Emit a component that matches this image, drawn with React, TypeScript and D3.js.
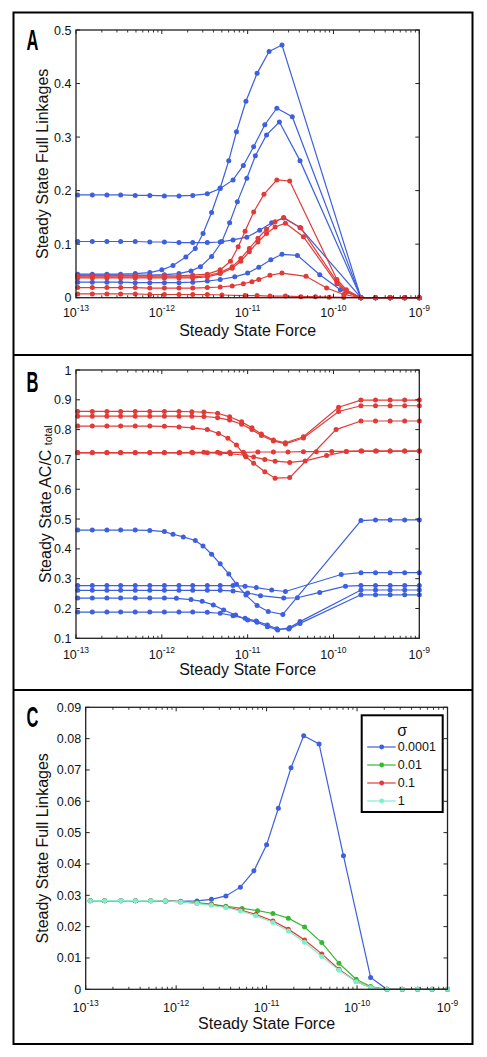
import React from 'react';
import * as d3 from 'd3';

type Pt = [number, number]; // [log10(force), value]

// ---------- shared axis data ----------
const X_DECADES = [-13, -12, -11, -10, -9];
const X_MINOR_MULTS = [2, 3, 4, 5, 6, 7, 8, 9];
const A_Y_TICKS = [0, 0.1, 0.2, 0.3, 0.4, 0.5];
const B_Y_TICKS = [0.1, 0.2, 0.3, 0.4, 0.5, 0.6, 0.7, 0.8, 0.9, 1];
const C_Y_TICKS = [0, 0.01, 0.02, 0.03, 0.04, 0.05, 0.06, 0.07, 0.08, 0.09];
const C_LEGEND_LABELS = ['0.0001', '0.01', '0.1', '1'];

// ---------- Panel A: Steady State Full Linkages ----------
const A_BLUE1: Pt[] = [[-12.98,.192],[-12.81,.192],[-12.64,.192],[-12.48,.192],[-12.31,.191],[-12.14,.191],[-11.97,.190],[-11.80,.190],[-11.64,.191],[-11.47,.194],[-11.32,.204],[-11.17,.220],[-11.05,.247],[-10.93,.282],[-10.80,.323],[-10.66,.354],[-10.48,.338],[-9.68,0],[-9.51,0],[-9.34,0],[-9.17,0],[-9.0,0]];
const A_BLUE2: Pt[] = [[-12.98,.105],[-12.81,.105],[-12.64,.105],[-12.48,.105],[-12.31,.105],[-12.14,.104],[-11.97,.104],[-11.80,.103],[-11.64,.103],[-11.47,.103],[-11.32,.104],[-11.17,.108],[-11.01,.113],[-10.86,.126],[-10.72,.140],[-10.58,.149],[-10.39,.131],[-9.68,0],[-9.51,0],[-9.34,0],[-9.17,0],[-9.0,0]];
const A_BLUE3: Pt[] = [[-12.98,.044],[-12.81,.044],[-12.64,.044],[-12.48,.044],[-12.31,.045],[-12.14,.047],[-12.00,.052],[-11.87,.060],[-11.72,.076],[-11.61,.092],[-11.52,.120],[-11.42,.159],[-11.32,.205],[-11.22,.256],[-11.13,.310],[-11.02,.367],[-10.89,.419],[-10.75,.460],[-10.60,.472],[-9.68,0],[-9.51,0],[-9.34,0],[-9.17,0],[-9.0,0]];
const A_BLUE4: Pt[] = [[-12.98,.042],[-12.81,.042],[-12.64,.042],[-12.48,.042],[-12.31,.042],[-12.14,.042],[-11.97,.043],[-11.80,.045],[-11.66,.050],[-11.55,.058],[-11.42,.077],[-11.30,.105],[-11.21,.140],[-11.12,.179],[-11.01,.223],[-10.91,.265],[-10.78,.304],[-10.63,.328],[-10.39,.256],[-9.68,0],[-9.51,0],[-9.34,0],[-9.17,0],[-9.0,0]];
const A_BLUE5: Pt[] = [[-12.98,.029],[-12.81,.029],[-12.64,.029],[-12.48,.029],[-12.31,.028],[-12.14,.028],[-11.97,.028],[-11.80,.028],[-11.64,.029],[-11.47,.031],[-11.32,.034],[-11.15,.039],[-11.00,.046],[-10.87,.057],[-10.73,.071],[-10.60,.081],[-10.42,.079],[-10.16,.043],[-9.92,.015],[-9.68,0],[-9.51,0],[-9.34,0],[-9.17,0],[-9.0,0]];
const A_RED1: Pt[] = [[-12.98,.041],[-12.81,.041],[-12.64,.041],[-12.48,.041],[-12.31,.041],[-12.14,.041],[-11.97,.041],[-11.80,.041],[-11.64,.042],[-11.47,.044],[-11.32,.052],[-11.20,.068],[-11.11,.095],[-11.03,.124],[-10.93,.160],[-10.81,.193],[-10.66,.220],[-10.51,.218],[-9.96,.034],[-9.85,.015],[-9.68,0],[-9.51,0],[-9.34,0],[-9.17,0],[-9.0,0]];
const A_RED2: Pt[] = [[-12.98,.039],[-12.81,.039],[-12.64,.039],[-12.48,.039],[-12.31,.039],[-12.14,.039],[-11.97,.039],[-11.80,.039],[-11.64,.039],[-11.47,.041],[-11.32,.047],[-11.18,.058],[-11.08,.073],[-10.98,.092],[-10.88,.111],[-10.78,.128],[-10.68,.142],[-10.58,.150],[-10.38,.130],[-9.96,.030],[-9.85,.012],[-9.68,0],[-9.51,0],[-9.34,0],[-9.17,0],[-9.0,0]];
const A_RED3: Pt[] = [[-12.98,.037],[-12.81,.037],[-12.64,.037],[-12.48,.037],[-12.31,.037],[-12.14,.037],[-11.97,.037],[-11.80,.037],[-11.64,.037],[-11.47,.039],[-11.32,.045],[-11.18,.055],[-11.08,.068],[-10.98,.086],[-10.88,.104],[-10.78,.120],[-10.68,.132],[-10.56,.139],[-10.35,.114],[-9.96,.026],[-9.85,.010],[-9.68,0],[-9.51,0],[-9.34,0],[-9.17,0],[-9.0,0]];
const A_RED4: Pt[] = [[-12.98,.019],[-12.81,.019],[-12.64,.019],[-12.48,.019],[-12.31,.019],[-12.14,.018],[-11.97,.018],[-11.80,.018],[-11.64,.018],[-11.47,.019],[-11.32,.020],[-11.18,.022],[-11.05,.026],[-10.95,.030],[-10.87,.034],[-10.74,.042],[-10.60,.046],[-10.32,.040],[-10.08,.018],[-9.88,.006],[-9.68,0],[-9.51,0],[-9.34,0],[-9.17,0],[-9.0,0]];
const A_RED5: Pt[] = [[-12.98,.007],[-12.81,.007],[-12.64,.007],[-12.48,.007],[-12.31,.007],[-12.14,.006],[-11.97,.006],[-11.80,.006],[-11.64,.006],[-11.47,.006],[-11.30,.005],[-11.03,.004],[-10.89,.004],[-10.74,.003],[-10.56,.003],[-10.38,.002],[-10.21,.002],[-10.05,.001],[-9.88,.0005],[-9.68,0],[-9.51,0],[-9.34,0],[-9.17,0],[-9.0,0]];

// ---------- Panel B: Steady State AC/C total ----------
const B_RED1: Pt[] = [[-12.98,.861],[-12.81,.861],[-12.64,.861],[-12.48,.861],[-12.31,.861],[-12.14,.861],[-11.97,.861],[-11.80,.861],[-11.65,.860],[-11.51,.859],[-11.35,.855],[-11.21,.843],[-11.07,.826],[-10.95,.806],[-10.84,.785],[-10.70,.765],[-10.56,.756],[-10.35,.776],[-9.94,.875],[-9.68,.899],[-9.51,.899],[-9.34,.899],[-9.17,.899],[-9.0,.899]];
const B_RED2: Pt[] = [[-12.98,.845],[-12.81,.845],[-12.64,.845],[-12.48,.845],[-12.31,.845],[-12.14,.845],[-11.97,.845],[-11.80,.845],[-11.65,.845],[-11.51,.844],[-11.35,.840],[-11.21,.832],[-11.07,.818],[-10.95,.800],[-10.84,.780],[-10.70,.762],[-10.56,.752],[-10.35,.772],[-9.94,.861],[-9.68,.880],[-9.51,.880],[-9.34,.880],[-9.17,.880],[-9.0,.880]];
const B_RED3: Pt[] = [[-12.98,.812],[-12.81,.812],[-12.64,.812],[-12.48,.812],[-12.31,.812],[-12.14,.812],[-11.97,.811],[-11.80,.809],[-11.64,.806],[-11.47,.800],[-11.34,.787],[-11.23,.771],[-11.13,.748],[-11.02,.709],[-10.93,.687],[-10.80,.659],[-10.68,.637],[-10.51,.639],[-9.97,.800],[-9.68,.829],[-9.51,.829],[-9.34,.829],[-9.17,.829],[-9.0,.829]];
const B_RED4: Pt[] = [[-12.98,.722],[-12.81,.722],[-12.64,.722],[-12.48,.722],[-12.31,.722],[-12.14,.722],[-11.97,.722],[-11.80,.722],[-11.64,.722],[-11.47,.722],[-11.32,.721],[-11.20,.719],[-11.03,.714],[-10.93,.708],[-10.80,.700],[-10.68,.694],[-10.51,.690],[-10.33,.695],[-10.08,.713],[-9.85,.727],[-9.68,.728],[-9.51,.728],[-9.34,.728],[-9.17,.728],[-9.0,.728]];
const B_RED5: Pt[] = [[-12.98,.723],[-12.81,.723],[-12.64,.723],[-12.48,.723],[-12.31,.723],[-12.14,.723],[-11.97,.723],[-11.79,.723],[-11.65,.724],[-11.51,.724],[-11.35,.724],[-11.21,.724],[-11.05,.724],[-10.88,.725],[-10.70,.725],[-10.53,.725],[-10.35,.726],[-10.20,.726],[-10.02,.727],[-9.85,.727],[-9.67,.728],[-9.50,.728],[-9.34,.728],[-9.17,.728],[-9.0,.728]];
const B_BLUE1: Pt[] = [[-12.98,.463],[-12.81,.463],[-12.64,.463],[-12.48,.463],[-12.31,.463],[-12.14,.462],[-11.97,.458],[-11.87,.449],[-11.75,.440],[-11.61,.428],[-11.52,.410],[-11.42,.382],[-11.32,.350],[-11.22,.316],[-11.13,.281],[-11.02,.245],[-10.89,.210],[-10.76,.190],[-10.59,.180],[-9.68,.495],[-9.51,.497],[-9.34,.497],[-9.17,.497],[-9.0,.497]];
const B_BLUE2: Pt[] = [[-12.98,.277],[-12.81,.277],[-12.64,.277],[-12.48,.277],[-12.31,.277],[-12.14,.277],[-11.97,.277],[-11.80,.277],[-11.64,.277],[-11.47,.277],[-11.32,.277],[-11.17,.277],[-11.03,.275],[-10.90,.270],[-10.72,.262],[-10.56,.257],[-9.91,.314],[-9.68,.320],[-9.51,.320],[-9.34,.320],[-9.17,.320],[-9.0,.320]];
const B_BLUE3: Pt[] = [[-12.98,.261],[-12.81,.261],[-12.64,.261],[-12.48,.261],[-12.31,.261],[-12.14,.261],[-11.97,.261],[-11.80,.261],[-11.64,.261],[-11.47,.261],[-11.32,.261],[-11.17,.259],[-11.00,.252],[-10.85,.243],[-10.58,.235],[-10.42,.236],[-10.16,.254],[-9.86,.275],[-9.68,.277],[-9.51,.277],[-9.34,.277],[-9.17,.277],[-9.0,.277]];
const B_BLUE4: Pt[] = [[-12.98,.235],[-12.81,.235],[-12.64,.235],[-12.48,.235],[-12.31,.235],[-12.14,.235],[-11.97,.235],[-11.83,.234],[-11.66,.230],[-11.53,.224],[-11.40,.212],[-11.28,.195],[-11.14,.178],[-11.00,.161],[-10.89,.154],[-10.77,.139],[-10.65,.128],[-10.51,.136],[-10.39,.156],[-9.68,.262],[-9.51,.262],[-9.34,.262],[-9.17,.262],[-9.0,.262]];
const B_BLUE5: Pt[] = [[-12.98,.188],[-12.81,.188],[-12.64,.188],[-12.48,.188],[-12.31,.188],[-12.14,.188],[-11.97,.188],[-11.80,.188],[-11.64,.188],[-11.47,.187],[-11.32,.184],[-11.17,.176],[-11.03,.167],[-10.90,.158],[-10.77,.145],[-10.66,.132],[-10.52,.131],[-10.39,.150],[-9.68,.246],[-9.51,.246],[-9.34,.246],[-9.17,.246],[-9.0,.246]];

// ---------- Panel C: sigma sweep ----------
const C_SIGMA_0001: Pt[] = [[-12.95,.0283],[-12.79,.0283],[-12.61,.0283],[-12.45,.0283],[-12.28,.0283],[-12.12,.0282],[-11.95,.0281],[-11.77,.0282],[-11.61,.0287],[-11.45,.0298],[-11.29,.0326],[-11.14,.0378],[-11.00,.0461],[-10.87,.0578],[-10.73,.0707],[-10.59,.0809],[-10.42,.0783],[-10.15,.0426],[-9.85,.0038],[-9.67,0],[-9.50,0],[-9.33,0],[-9.17,0],[-9.0,0]];
const C_SIGMA_001: Pt[] = [[-12.95,.0283],[-12.79,.0283],[-12.61,.0283],[-12.45,.0283],[-12.28,.0283],[-12.12,.0282],[-11.95,.0280],[-11.77,.0277],[-11.61,.0272],[-11.45,.0265],[-11.27,.0258],[-11.10,.0251],[-10.93,.0242],[-10.76,.0227],[-10.58,.0199],[-10.39,.0149],[-10.20,.0083],[-10.01,.0032],[-9.85,.0009],[-9.67,0],[-9.50,0],[-9.33,0],[-9.17,0],[-9.0,0]];
const C_SIGMA_01: Pt[] = [[-12.95,.0283],[-12.79,.0283],[-12.61,.0283],[-12.45,.0283],[-12.28,.0283],[-12.12,.0282],[-11.95,.0279],[-11.77,.0275],[-11.61,.0270],[-11.45,.0263],[-11.29,.0253],[-11.12,.0239],[-10.93,.0218],[-10.76,.0192],[-10.58,.0157],[-10.39,.0113],[-10.20,.0064],[-10.01,.0025],[-9.85,.0006],[-9.67,0],[-9.50,0],[-9.33,0],[-9.17,0],[-9.0,0]];
const C_SIGMA_1: Pt[] = [[-12.95,.0283],[-12.79,.0283],[-12.61,.0283],[-12.45,.0283],[-12.28,.0283],[-12.12,.0282],[-11.95,.0279],[-11.77,.0274],[-11.61,.0268],[-11.45,.0261],[-11.29,.0250],[-11.12,.0235],[-10.93,.0213],[-10.76,.0186],[-10.58,.0150],[-10.39,.0105],[-10.20,.0061],[-10.01,.0024],[-9.85,.0006],[-9.67,0],[-9.50,0],[-9.33,0],[-9.17,0],[-9.0,0]];

const BLUE = '#3d5fe0';
const RED = '#e23a36';
const GREEN = '#36b836';
const CYAN = '#80efc9';
const FONT = 'Liberation Sans, Arial, Helvetica, sans-serif';

type Series = { data: Pt[]; color: string };
type PanelCfg = {
  label: string;
  labelY: number;
  x0: number; x1: number; y0: number; y1: number;
  yDomain: [number, number];
  yTicks: number[];
  yFmt: (v: number) => string;
  series: Series[];
  xLabelDy: number;
  xTitleY: number;
  yTitle: React.ReactNode;
  yTitleX: number;
};

function Panel({ cfg }: { cfg: PanelCfg }) {
  const xs = d3.scaleLog().domain([1e-13, 1e-9]).range([cfg.x0, cfg.x1]);
  const ys = d3.scaleLinear().domain(cfg.yDomain).range([cfg.y1, cfg.y0]);
  const line = d3.line<Pt>().x(p => xs(Math.pow(10, p[0]))).y(p => ys(p[1]));
  const minors: number[] = [];
  X_DECADES.slice(0, -1).forEach(d => X_MINOR_MULTS.forEach(m => minors.push(m * Math.pow(10, d))));
  const axisColor = '#222';
  const cx = (cfg.x0 + cfg.x1) / 2;
  const cy = (cfg.y0 + cfg.y1) / 2;
  return (
    <g>
      <rect x={cfg.x0} y={cfg.y0} width={cfg.x1 - cfg.x0} height={cfg.y1 - cfg.y0} fill="#fff" />
      {cfg.series.map((s, i) => (
        <g key={i}>
          <path d={line(s.data) || ''} fill="none" stroke={s.color} strokeWidth={1.2} />
          {s.data.map((p, j) => (
            <circle key={j} cx={xs(Math.pow(10, p[0]))} cy={ys(p[1])} r={2.5} fill={s.color} />
          ))}
        </g>
      ))}
      <rect x={cfg.x0} y={cfg.y0} width={cfg.x1 - cfg.x0} height={cfg.y1 - cfg.y0} fill="none" stroke={axisColor} strokeWidth={1.3} />
      {X_DECADES.map(d => {
        const x = xs(Math.pow(10, d));
        return (
          <g key={d}>
            <line x1={x} x2={x} y1={cfg.y1} y2={cfg.y1 - 4} stroke={axisColor} strokeWidth={1} />
            <line x1={x} x2={x} y1={cfg.y0} y2={cfg.y0 + 4} stroke={axisColor} strokeWidth={1} />
            <text x={x} y={cfg.y1 + cfg.xLabelDy} textAnchor="middle" fontFamily={FONT} fontSize={12.5} fill="#111">
              10<tspan fontSize={8.5} dy={-6}>{'-' + Math.abs(d)}</tspan>
            </text>
          </g>
        );
      })}
      {minors.map((v, i) => {
        const x = xs(v);
        return (
          <g key={'m' + i}>
            <line x1={x} x2={x} y1={cfg.y1} y2={cfg.y1 - 2.5} stroke={axisColor} strokeWidth={0.9} />
            <line x1={x} x2={x} y1={cfg.y0} y2={cfg.y0 + 2.5} stroke={axisColor} strokeWidth={0.9} />
          </g>
        );
      })}
      {cfg.yTicks.map(t => {
        const y = ys(t);
        return (
          <g key={t}>
            <line x1={cfg.x0} x2={cfg.x0 + 4} y1={y} y2={y} stroke={axisColor} strokeWidth={1} />
            <line x1={cfg.x1} x2={cfg.x1 - 4} y1={y} y2={y} stroke={axisColor} strokeWidth={1} />
            <text x={cfg.x0 - 4.5} y={y + 4.5} textAnchor="end" fontFamily={FONT} fontSize={12.5} fill="#111">
              {cfg.yFmt(t)}
            </text>
          </g>
        );
      })}
      <text x={cx} y={cfg.xTitleY} textAnchor="middle" fontFamily={FONT} fontSize={16} fill="#111">
        Steady State Force
      </text>
      <text transform={`translate(${cfg.yTitleX},${cy}) rotate(-90)`} textAnchor="middle" fontFamily={FONT} fontSize={16} fill="#111">
        {cfg.yTitle}
      </text>
      <text transform={`translate(26.5,${cfg.labelY}) scale(0.55,1)`} fontFamily={FONT} fontWeight="bold" fontSize={30} fill="#000">
        {cfg.label}
      </text>
    </g>
  );
}

function Legend({ x0, x1, y0, y1 }: { x0: number; x1: number; y0: number; y1: number }) {
  const colors = [BLUE, GREEN, RED, CYAN];
  const rowY = d3.scaleLinear().domain([0, 3]).range([747, 801]);
  return (
    <g>
      <rect x={x0} y={y0} width={x1 - x0} height={y1 - y0} fill="#fff" stroke="#000" strokeWidth={2} />
      <text x={(x0 + x1) / 2} y={735.5} textAnchor="middle" fontFamily={FONT} fontSize={16} fill="#111">σ</text>
      {C_LEGEND_LABELS.map((lab, i) => {
        const y = rowY(i);
        return (
          <g key={lab}>
            <line x1={x0 + 5.5} x2={x0 + 34} y1={y} y2={y} stroke={colors[i]} strokeWidth={1.2} />
            <circle cx={x0 + 20} cy={y} r={2.4} fill={colors[i]} />
            <text x={x0 + 36} y={y + 4.3} fontFamily={FONT} fontSize={12.5} fill="#111">{lab}</text>
          </g>
        );
      })}
    </g>
  );
}

const fmtA = (v: number) => (v === 0 ? '0' : d3.format('.1f')(v));
const fmtB = (v: number) => (v === 1 ? '1' : d3.format('.1f')(v));
const fmtC = (v: number) => (v === 0 ? '0' : d3.format('.2f')(v));

export default function App() {
  const panelA: PanelCfg = {
    label: 'A', labelY: 49.5,
    x0: 76, x1: 419.3, y0: 30, y1: 297.7,
    yDomain: [0, 0.5], yTicks: A_Y_TICKS, yFmt: fmtA,
    series: [A_BLUE1, A_BLUE2, A_BLUE3, A_BLUE4, A_BLUE5].map(d => ({ data: d, color: BLUE }))
      .concat([A_RED1, A_RED2, A_RED3, A_RED4, A_RED5].map(d => ({ data: d, color: RED }))),
    xLabelDy: 19, xTitleY: 336,
    yTitle: 'Steady State Full Linkages', yTitleX: 48,
  };
  const panelB: PanelCfg = {
    label: 'B', labelY: 391.5,
    x0: 76, x1: 419.3, y0: 370, y1: 638.3,
    yDomain: [0.1, 1], yTicks: B_Y_TICKS, yFmt: fmtB,
    series: [B_BLUE1, B_BLUE2, B_BLUE3, B_BLUE4, B_BLUE5].map(d => ({ data: d, color: BLUE }))
      .concat([B_RED1, B_RED2, B_RED3, B_RED4, B_RED5].map(d => ({ data: d, color: RED }))),
    xLabelDy: 20.5, xTitleY: 675,
    yTitle: (<>Steady State AC/C <tspan fontSize={10.5} dy={1}>total</tspan></>), yTitleX: 50.5,
  };
  const panelC: PanelCfg = {
    label: 'C', labelY: 727,
    x0: 85.7, x1: 447.5, y0: 707.3, y1: 989.3,
    yDomain: [0, 0.09], yTicks: C_Y_TICKS, yFmt: fmtC,
    series: [
      { data: C_SIGMA_0001, color: BLUE },
      { data: C_SIGMA_001, color: GREEN },
      { data: C_SIGMA_01, color: RED },
      { data: C_SIGMA_1, color: CYAN },
    ],
    xLabelDy: 22.5, xTitleY: 1029,
    yTitle: 'Steady State Full Linkages', yTitleX: 48,
  };
  return (
    <svg width={487} height={1057} viewBox="0 0 487 1057" style={{ position: 'absolute', left: 0, top: 0, background: '#fff' }}>
      <rect x={0} y={0} width={487} height={1057} fill="#fff" />
      <Panel cfg={panelA} />
      <Panel cfg={panelB} />
      <Panel cfg={panelC} />
      <Legend x0={361.7} x1={442.7} y0={715.3} y1={812} />
      <rect x={13.5} y={12.5} width={459} height={1031.5} fill="none" stroke="#000" strokeWidth={2} />
      <line x1={13.5} x2={472.5} y1={355} y2={355} stroke="#000" strokeWidth={2} />
      <line x1={13.5} x2={472.5} y1={690} y2={690} stroke="#000" strokeWidth={2} />
    </svg>
  );
}
